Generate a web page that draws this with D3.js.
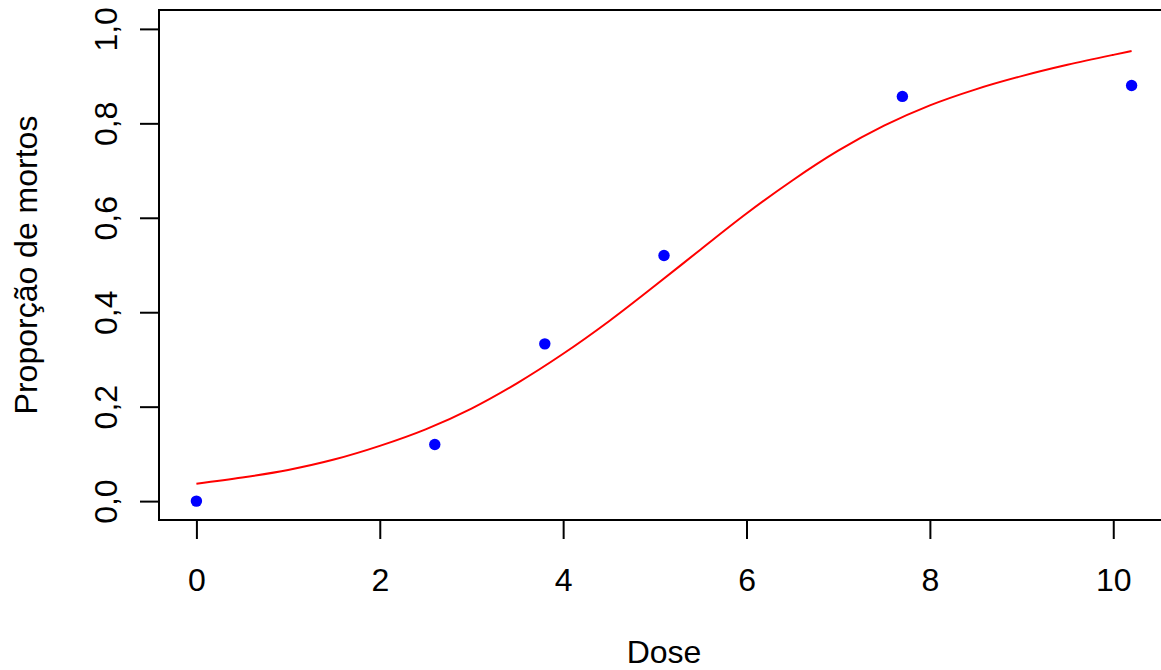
<!DOCTYPE html>
<html>
<head>
<meta charset="utf-8">
<script src="https://cdn.jsdelivr.net/npm/d3@7"></script>
<style>
  body { margin: 0; background: #fff; }
  text { font-family: "Liberation Sans", Arial, Helvetica, sans-serif; }
</style>
</head>
<body>
<div id="chart"></div>
<script>
// observed points
let doses = [0, 2.6, 3.8, 5.1, 7.7, 10.2];
let proportions = [0, 0.12, 0.333, 0.52, 0.857, 0.88];

// fitted curve
let curveDoses = [0, 0.5, 1, 1.5, 2, 2.5, 3, 3.5, 4, 4.5, 5, 5.5, 6, 6.5, 7, 7.5, 8, 8.5, 9, 9.5, 10, 10.2];
let curveValues = [0.037, 0.050, 0.066, 0.088, 0.117, 0.152, 0.196, 0.250, 0.312, 0.381, 0.456, 0.533, 0.609, 0.679, 0.742, 0.795, 0.838, 0.872, 0.900, 0.924, 0.945, 0.953];

let xTicks = [0, 2, 4, 6, 8, 10];
let yTicks = [0, 0.2, 0.4, 0.6, 0.8, 1.0];

let width = 1161,
    height = 670,
    plotLeft = 159,
    plotRight = 1169,
    plotTop = 10,
    plotBottom = 520,
    tickLen = 19,
    fontSize = 32;

let locale = d3.formatLocale({decimal: ",", thousands: ".", grouping: [3], currency: ["", ""]});
let yFormat = locale.format(".1f");

/* Scale */
let xScale = d3.scaleLinear()
    .domain([-0.408, 10.608])
    .range([plotLeft, plotRight]);

let yScale = d3.scaleLinear()
    .domain([-0.04, 1.04])
    .range([plotBottom, plotTop]);

/* Add SVG */
let svg = d3.select("#chart").append("svg")
    .attr("width", width)
    .attr("height", height);

/* Curve */
let line = d3.line()
    .x(d => xScale(d[0]))
    .y(d => yScale(d[1]))
    .curve(d3.curveMonotoneX);

svg.append("path")
    .datum(curveDoses.map((d, i) => [d, curveValues[i]]))
    .attr("d", line)
    .attr("fill", "none")
    .attr("stroke", "#ff0000")
    .attr("stroke-width", 2);

/* Points */
svg.append("g")
    .selectAll("circle")
    .data(doses.map((d, i) => [d, proportions[i]])).enter()
    .append("circle")
    .attr("cx", d => xScale(d[0]))
    .attr("cy", d => yScale(d[1]))
    .attr("r", 5.7)
    .attr("fill", "#0000ff");

/* Axes */
let xAxis = d3.axisBottom(xScale).tickValues(xTicks).tickSize(tickLen).tickFormat(d3.format("d"));
let yAxis = d3.axisLeft(yScale).tickValues(yTicks).tickSize(tickLen).tickFormat(yFormat);

let gx = svg.append("g")
    .attr("transform", `translate(0, ${plotBottom})`)
    .call(xAxis);
gx.select(".domain").remove();
gx.selectAll("line").attr("stroke", "#000").attr("stroke-width", 2);
gx.selectAll("text")
    .attr("y", 71)
    .attr("dy", null)
    .attr("fill", "#000")
    .style("font-size", fontSize + "px");

let gy = svg.append("g")
    .attr("transform", `translate(${plotLeft}, 0)`)
    .call(yAxis);
gy.select(".domain").remove();
gy.selectAll("line").attr("stroke", "#000").attr("stroke-width", 2);
gy.selectAll("text")
    .attr("x", null)
    .attr("dy", null)
    .attr("text-anchor", "middle")
    .attr("transform", "translate(-42, 0) rotate(-90)")
    .attr("fill", "#000")
    .style("font-size", fontSize + "px");

/* Box */
svg.append("rect")
    .attr("x", plotLeft)
    .attr("y", plotTop)
    .attr("width", plotRight - plotLeft)
    .attr("height", plotBottom - plotTop)
    .attr("fill", "none")
    .attr("stroke", "#000")
    .attr("stroke-width", 2);

/* Titles */
svg.append("text")
    .attr("x", (plotLeft + plotRight) / 2)
    .attr("y", 663)
    .attr("text-anchor", "middle")
    .style("font-size", fontSize + "px")
    .text("Dose");

svg.append("text")
    .attr("transform", `translate(37, ${(plotTop + plotBottom) / 2}) rotate(-90)`)
    .attr("text-anchor", "middle")
    .style("font-size", fontSize + "px")
    .text("Proporção de mortos");
</script>
</body>
</html>
